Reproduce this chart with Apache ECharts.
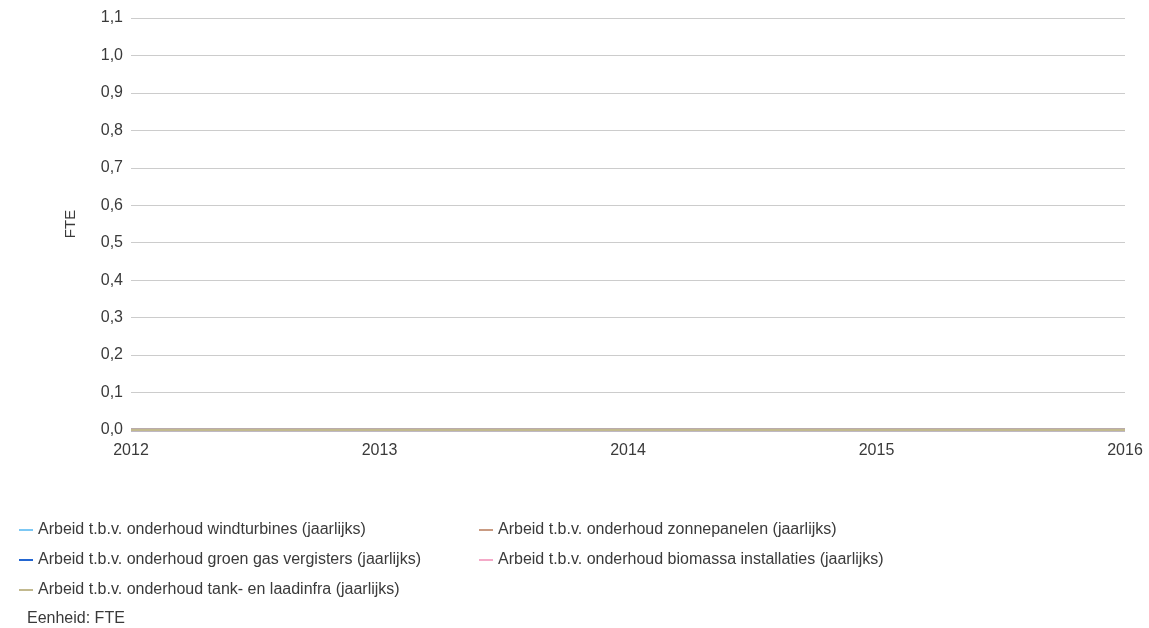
<!DOCTYPE html>
<html>
<head>
<meta charset="utf-8">
<style>
  html, body { margin: 0; padding: 0; background: #fff; }
  #chart { width: 1149px; height: 628px; }
</style>
<script src="https://cdn.jsdelivr.net/npm/echarts@6/dist/echarts.min.js"></script>
</head>
<body>
<div id="chart"></div>
<script>
// Jaarlijkse onderhoudsarbeid per installatietype (FTE)
const years = ['2012', '2013', '2014', '2015', '2016'];
const windturbines = [0, 0, 0, 0, 0];
const zonnepanelen = [0, 0, 0, 0, 0];
const groenGas = [0, 0, 0, 0, 0];
const biomassa = [0, 0, 0, 0, 0];
const tankLaadinfra = [0, 0, 0, 0, 0];

const names = {
  wind: 'Arbeid t.b.v. onderhoud windturbines (jaarlijks)',
  zon: 'Arbeid t.b.v. onderhoud zonnepanelen (jaarlijks)',
  gas: 'Arbeid t.b.v. onderhoud groen gas vergisters (jaarlijks)',
  bio: 'Arbeid t.b.v. onderhoud biomassa installaties (jaarlijks)',
  tank: 'Arbeid t.b.v. onderhoud tank- en laadinfra (jaarlijks)'
};

const font = 'Liberation Sans, Arial, sans-serif';
const textColor = '#3a3a3a';
const chart = echarts.init(document.getElementById('chart'));

function line(name, data, color) {
  return {
    name, type: 'line', data,
    symbol: 'none',
    lineStyle: { color, width: 3 },
    itemStyle: { color },
    animation: false
  };
}

const legendBase = {
  orient: 'vertical',
  icon: 'rect',
  padding: 0,
  itemWidth: 14,
  itemHeight: 2,
  itemGap: 10,
  textStyle: { color: textColor, fontSize: 16, fontFamily: font, lineHeight: 20 }
};

chart.setOption({
  animation: false,
  grid: { left: 131, right: 24, top: 18, bottom: 198 },
  xAxis: {
    type: 'category',
    data: years,
    boundaryGap: false,
    axisLine: { show: false },
    axisTick: { show: false },
    axisLabel: { color: textColor, fontSize: 16, fontFamily: font, margin: 13 },
    splitLine: { show: false }
  },
  yAxis: {
    type: 'value',
    min: 0, max: 1.1, interval: 0.1,
    name: 'FTE',
    nameLocation: 'middle',
    nameGap: 53,
    nameTextStyle: { color: textColor, fontSize: 15, fontFamily: font },
    axisLine: { show: false },
    axisTick: { show: false },
    axisLabel: {
      color: textColor, fontSize: 16, fontFamily: font, margin: 8,
      formatter: v => v.toFixed(1).replace('.', ',')
    },
    splitLine: { lineStyle: { color: '#cccccc', width: 1 } }
  },
  legend: [
    Object.assign({}, legendBase, {
      left: 19, top: 520,
      data: [names.wind, names.gas, names.tank]
    }),
    Object.assign({}, legendBase, {
      left: 479, top: 520,
      data: [names.zon, names.bio]
    })
  ],
  graphic: [{
    type: 'text', left: 27, top: 611,
    style: { text: 'Eenheid: FTE', fill: textColor, fontSize: 16, fontFamily: font }
  }],
  series: [
    line(names.wind, windturbines, '#7cc8f4'),
    line(names.zon, zonnepanelen, '#c99b82'),
    line(names.gas, groenGas, '#2366d1'),
    line(names.bio, biomassa, '#f4aac8'),
    line(names.tank, tankLaadinfra, '#c2b98f')
  ]
});
</script>
</body>
</html>
